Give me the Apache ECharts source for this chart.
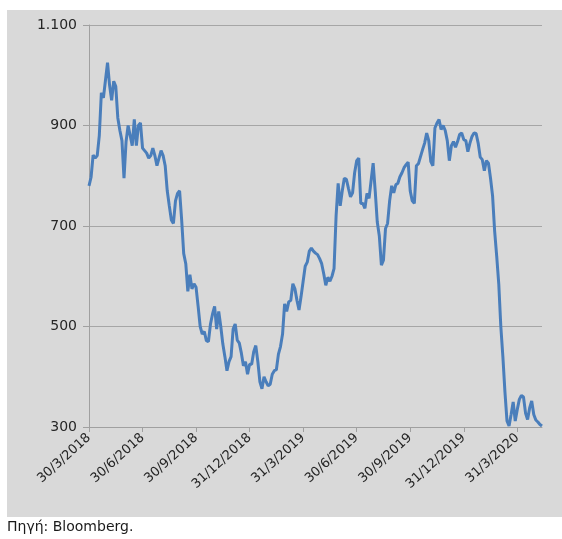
<!DOCTYPE html>
<html>
<head>
<meta charset="utf-8">
<script src="https://cdn.jsdelivr.net/npm/echarts@6/dist/echarts.min.js"></script>
<style>
  html, body { margin: 0; padding: 0; background: #ffffff; }
  #chart { width: 562px; height: 539px; }
</style>
</head>
<body>
<div id="chart"></div>
<script>
// quarter-end labels, one every 26 points
var tickLabels = ['30/3/2018', '30/6/2018', '30/9/2018', '31/12/2018', '31/3/2019',
    '30/6/2019', '30/9/2019', '31/12/2019', '31/3/2020']
var step = 26

// index values
var values = [780, 797, 841, 835, 840, 880, 965, 955, 990, 1025, 980, 950, 988, 978, 915, 890, 870, 795, 868, 900,
    880, 860, 912, 860, 900, 905, 855, 850, 845, 835, 840, 855, 840, 820, 835, 850, 840, 820, 770, 740,
    712, 705, 750, 765, 770, 712, 645, 625, 570, 603, 575, 585, 578, 540, 500, 485, 490, 472, 470, 505,
    525, 540, 495, 530, 500, 465, 440, 412, 430, 440, 495, 505, 473, 467, 447, 422, 430, 405, 425, 425,
    450, 462, 430, 390, 376, 400, 390, 382, 385, 405, 412, 414, 445, 460, 485, 545, 530, 549, 552, 585,
    575, 552, 533, 560, 590, 620, 628, 650, 656, 650, 646, 643, 635, 625, 605, 582, 598, 590, 600, 615,
    720, 785, 740, 770, 795, 793, 775, 758, 766, 806, 830, 835, 745, 745, 735, 765, 755, 790, 825, 770,
    708, 680, 622, 632, 695, 705, 750, 780, 766, 782, 785, 798, 806, 816, 822, 827, 770, 750, 745, 820,
    824, 838, 852, 865, 885, 870, 828, 820, 895, 905, 912, 892, 900, 890, 870, 830, 860, 868, 857, 868,
    882, 885, 872, 870, 848, 865, 878, 885, 884, 865, 837, 832, 810, 830, 825, 795, 760, 690, 640, 585,
    500, 440, 370, 312, 302, 325, 350, 312, 335, 355, 363, 360, 328, 315, 338, 352, 325, 314, 310, 305,
    302]

var categories = []
for (var i = 0; i < values.length; i++) {
    categories.push(i)
}

function isQuarter(index) {
    return index % step === 0 && index / step < tickLabels.length
}

var option = {
    animation: false,
    textStyle: { fontFamily: 'DejaVu Sans' },
    graphic: [
        { type: 'rect', left: 7, top: 10, shape: { width: 555, height: 507 }, style: { fill: '#d9d9d9' }, z: -10 },
        { type: 'text', left: 7, top: 520, style: { text: 'Πηγή: Bloomberg.', fill: '#1a1a1a', font: '14px "DejaVu Sans"' } }
    ],
    grid: { left: 89, right: 20, top: 25, bottom: 112 },
    xAxis: {
        type: 'category',
        data: categories,
        boundaryGap: false,
        axisLine: { lineStyle: { color: '#a0a0a0', width: 1 } },
        axisTick: { show: true, length: 5, interval: isQuarter, lineStyle: { color: '#a0a0a0' } },
        axisLabel: {
            interval: isQuarter,
            rotate: 42,
            margin: 9,
            color: '#262626',
            fontSize: 13,
            formatter: function (value, index) {
                return tickLabels[index / step] || ''
            }
        },
        splitLine: { show: false }
    },
    yAxis: {
        type: 'value',
        min: 300,
        max: 1100,
        interval: 200,
        axisLine: { show: true, lineStyle: { color: '#a0a0a0', width: 1 } },
        axisTick: { show: true, length: 6, lineStyle: { color: '#a0a0a0' } },
        axisLabel: {
            margin: 12,
            color: '#262626',
            fontSize: 14,
            formatter: function (v) {
                return String(v).replace(/\B(?=(\d{3})+(?!\d))/g, '.')
            }
        },
        splitLine: { lineStyle: { color: '#a6a6a6', width: 1 } }
    },
    series: [{
        type: 'line',
        data: values,
        showSymbol: false,
        symbol: 'none',
        lineStyle: { color: '#4a7ebb', width: 3 }
    }]
}

var myChart = echarts.init(document.getElementById('chart'))
myChart.setOption(option)
</script>
</body>
</html>
